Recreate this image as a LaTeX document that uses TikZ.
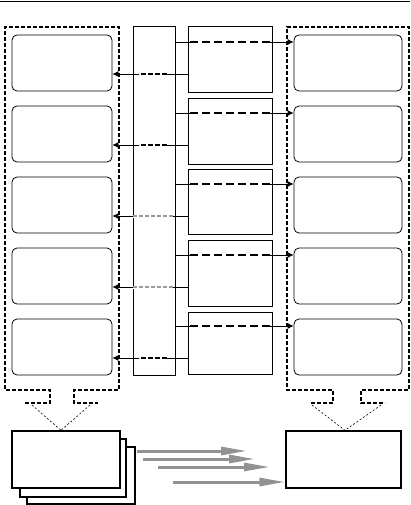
\documentclass[tikz,border=0pt]{standalone}
\usepackage{xcolor}
\usepackage{tikz}
\usetikzlibrary{arrows.meta,positioning}
\definecolor{mqInk}{HTML}{000000}
\definecolor{mqFaint}{HTML}{9A9A9A}
\definecolor{mqShaft}{HTML}{929292}
\tikzset{
  mq diagram/.style={x=1pt, y=-1pt, line join=miter},
  mq note/.style={draw=mqInk, fill=white, line width=0.8pt,
    rounded corners=5pt, minimum height=56pt, inner sep=0pt},
  mq slot/.style={draw=mqInk, line width=0.8pt, minimum width=84pt, inner sep=0pt},
  mq rule/.style={draw=mqInk, line width=0.8pt, inner sep=0pt},
  mq group/.style={draw=mqInk, line width=1.4pt, dash pattern=on 4pt off 2pt},
  mq link/.style={-{Latex[length=6pt,width=6pt]}, draw=mqInk, line width=0.8pt},
  mq wire/.style={draw=mqInk, line width=0.8pt},
  mq gap/.style={draw=white, line width=3pt},
  mq dash/.style={line width=2pt, dash pattern=on 8pt off 4pt},
  mq pointer/.style={draw=mqInk, line width=0.6pt, dash pattern=on 2pt off 2pt},
  mq sheet/.style={draw=mqInk, fill=white, line width=1.3pt, inner sep=0pt},
  mq push/.style={-{Triangle[length=26pt,width=8pt]}, draw=mqShaft, line width=3pt}
}
\begin{document}
\begin{tikzpicture}[mq diagram]
\useasboundingbox (0,0) rectangle (410,505);
\draw[mq wire] (0,1) -- (410,1);
% the two dashed groups, with their callout notches
\draw[mq group] (25,403) -- (50,403) -- (50,390) -- (5,390) -- (5,27) -- (119,27)
  -- (119,390) -- (74,390) -- (74,403) -- (98,403);
\draw[mq group] (311,403) -- (333,403) -- (333,390) -- (287,390) -- (287,27) -- (409,27)
  -- (409,390) -- (361,390) -- (361,403) -- (385,403);
\coordinate (lp1) at (32,405);
\coordinate (lp2) at (90,405);
\coordinate (rp1) at (312,405);
\coordinate (rp2) at (381,405);
% queue column
\node[mq rule, minimum width=42pt, minimum height=349pt] (queue) at (154,200.5) {};
\foreach \i/\y/\c/\h/\tone/\da/\db/\lw/\dl in {1/63/59/66/mqInk/167/139/2.6/5,2/134/131/66/mqInk/167/139/2.6/5,
    3/205/201.5/65/mqFaint/173/133/1.8/4,4/276/273/66/mqFaint/173/133/1.8/4,5/347/343/62/mqInk/167/139/2.6/5}{
  \node[mq note, minimum width=100pt] (ln\i) at (62,\y) {};
  \node[mq note, minimum width=108pt] (rn\i) at (348,\y) {};
  \node[mq slot, minimum height=\h pt] (msg\i) at (230,\c) {};
  % forward: queue -> consumer
  \coordinate (fwd\i) at (queue.east |- 0,\y-21);
  \draw[mq link] (fwd\i) -- (fwd\i -| rn\i.west);
  \draw[mq gap] (190,\y-21) -- (270,\y-21);
  \draw[mq dash, draw=mqInk] (190,\y-21) -- (270,\y-21);
  % back: slot -> producer
  \coordinate (back\i) at (msg\i.west |- 0,\y+11);
  \draw[mq link] (back\i) -- (back\i -| ln\i.east);
  \draw[mq gap] (\da,\y+11) -- (\db,\y+11);
  \draw[draw=\tone, line width=\lw pt, dash pattern=on \dl pt off 2pt] (\da,\y+11) -- (\db,\y+11);
}
% stacked sheets and the store
\node[mq sheet, minimum width=108pt, minimum height=57pt] (sheet3) at (81,475.5) {};
\node[mq sheet, minimum width=106pt, minimum height=58pt] (sheet2) at (73,468) {};
\node[mq sheet, minimum width=108pt, minimum height=57pt] (sheet1) at (66,459.5) {};
\node[mq sheet, minimum width=115pt, minimum height=57pt] (store) at (343.5,459.5) {};
\draw[mq pointer] (lp1) -- ([xshift=-5pt]sheet1.north);
\draw[mq pointer] (lp2) -- ([xshift=-5pt]sheet1.north);
\draw[mq pointer] (rp1) -- ([xshift=1.5pt]store.north);
\draw[mq pointer] (rp2) -- ([xshift=1.5pt]store.north);
\coordinate (push1) at (137,451);
\coordinate (push2) at (143,459);
\coordinate (push3) at (158,467);
\coordinate (push4) at (173,482);
\draw[mq push] (push1) -- ++(110,0);
\draw[mq push] (push2) -- ++(112,0);
\draw[mq push] (push3) -- ++(112,0);
\draw[mq push] (push4) -- (push4 -| store.west);
\end{tikzpicture}
\end{document}
